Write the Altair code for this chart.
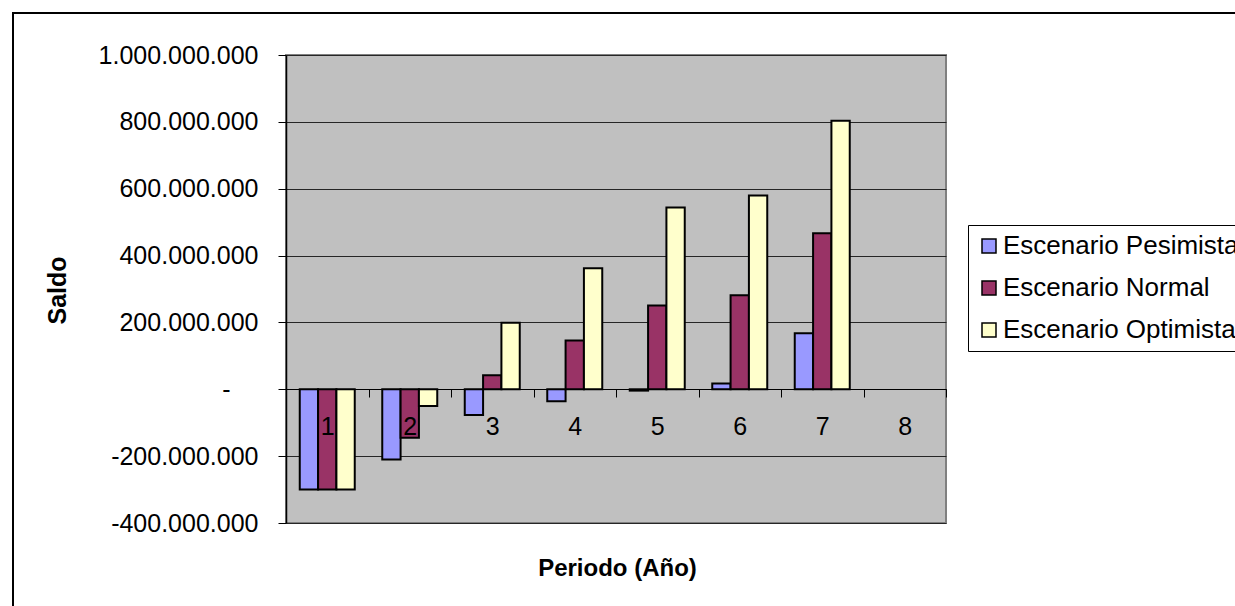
import altair as alt
import pandas as pd

periodos = ['1', '2', '3', '4', '5', '6', '7', '8']
series = ['Escenario Pesimista', 'Escenario Normal', 'Escenario Optimista']
pesimista = [-300e6, -210e6, -77e6, -36e6, -4e6, 17e6, 168e6, None]
normal = [-300e6, -145e6, 42e6, 146e6, 251e6, 281e6, 467e6, None]
optimista = [-300e6, -50e6, 199e6, 362e6, 544e6, 580e6, 803e6, None]
colores = ['#9999FF', '#993366', '#FFFFCC']
y_ticks = [-400e6, -200e6, 0, 200e6, 400e6, 600e6, 800e6, 1000e6]

rows = []
for s, vals in zip(series, [pesimista, normal, optimista]):
    for p, v in zip(periodos, vals):
        rows.append({'Periodo': p, 'Escenario': s, 'Saldo': v})
df = pd.DataFrame(rows)

FONT = 'Liberation Sans'

label_expr = ("datum.value == 0 ? '-' : "
              "replace(replace(format(datum.value, ','), regexp(',', 'g'), '.'), '\u2212', '-')")

one = alt.Data(values=[{}])
frame_top = alt.Chart(one).mark_rule(stroke='black', strokeWidth=2).encode(
    x=alt.value(-274), x2=alt.value(949), y=alt.value(-42)
)
frame_left = alt.Chart(one).mark_rule(stroke='black', strokeWidth=2).encode(
    x=alt.value(-273), y=alt.value(-43), y2=alt.value(551)
)

bars = alt.Chart(df).mark_bar(stroke='black', strokeWidth=2).encode(
    x=alt.X('Periodo:N',
            scale=alt.Scale(domain=periodos, paddingInner=0, paddingOuter=0),
            axis=alt.Axis(title='Periodo (Año)', labelAngle=0, offset=-134,
                          tickBand='extent', tickSize=8, tickColor='black',
                          domainColor='black', domainWidth=1,
                          labelPadding=17, labelFontSize=25, labelFont=FONT,
                          labelColor='black', grid=False, zindex=1,
                          titleFont=FONT, titleFontSize=24, titleFontWeight='bold',
                          titleColor='black', titleX=331, titleY=179,
                          titleBaseline='middle')),
    xOffset=alt.XOffset('Escenario:N', sort=series,
                        scale=alt.Scale(domain=series, paddingInner=0, paddingOuter=0.75)),
    y=alt.Y('Saldo:Q',
            scale=alt.Scale(domain=[-400e6, 1000e6], nice=False, zero=True),
            axis=alt.Axis(title='Saldo', values=y_ticks, labelExpr=label_expr,
                          grid=True, gridColor='#262626', gridWidth=1,
                          domainColor='black', domainWidth=1.5,
                          tickColor='black', tickSize=8,
                          labelPadding={'condition': {'test': 'datum.value == 0', 'value': 48},
                                        'value': 20},
                          labelFontSize=25, labelFont=FONT, labelColor='black',
                          titleFont=FONT, titleFontSize=25, titleFontWeight='bold',
                          titleColor='black', titleX=-229, titleY=235,
                          titleAngle=-90, titleAlign='center', titleBaseline='middle')),
    color=alt.Color('Escenario:N', sort=series,
                    scale=alt.Scale(domain=series, range=colores),
                    legend=alt.Legend(title=None, orient='none', legendX=682, legendY=170,
                                      labelFontSize=26, labelFont=FONT, labelColor='black',
                                      labelLimit=1000,
                                      symbolType='square', symbolSize=196,
                                      symbolStrokeColor='black', symbolStrokeWidth=1.5,
                                      rowPadding=16, padding=8, labelOffset=1,
                                      strokeColor='black', fillColor='white')),
)

chart = alt.layer(frame_top, frame_left, bars).properties(
    width=660, height=468,
    autosize=alt.AutoSizeParams(type='none'),
    padding={'left': 286, 'top': 55, 'right': 289, 'bottom': 83},
    background='white',
).configure_view(fill='#C0C0C0', stroke='#808080', strokeWidth=2)

chart.save("out.html", embed_options={"renderer": "svg", "actions": False})
